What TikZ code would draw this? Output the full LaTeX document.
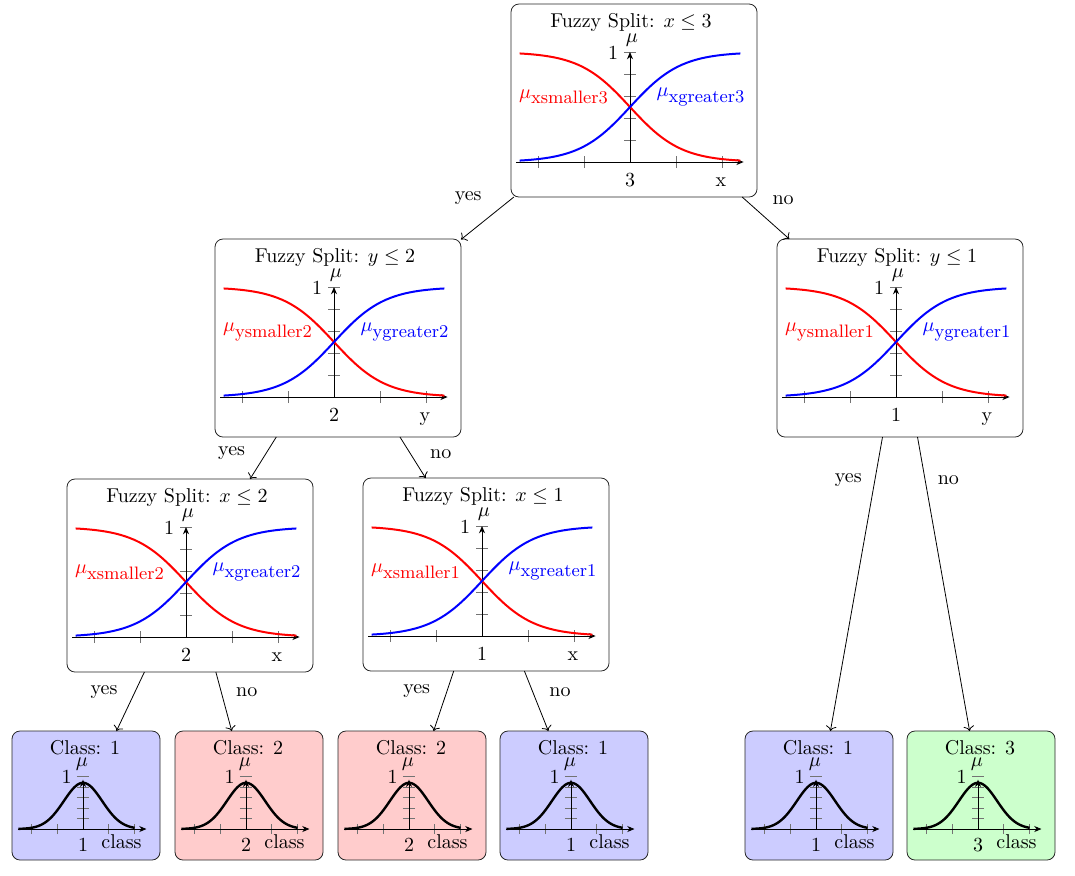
\documentclass[tikz,border=0pt]{standalone}
\usetikzlibrary{arrows.meta}
\tikzset{
  splitbox/.style={draw=black!85, rounded corners=4pt, minimum width=123pt, inner sep=0pt, outer sep=0pt},
  leafbox/.style={draw=black!85, rounded corners=4pt, minimum width=74pt, minimum height=64.5pt, inner sep=0pt, outer sep=0pt},
  edgearrow/.style={->, black},
  elabel/.style={anchor=base},
  tickline/.style={black!55, line width=0.4pt},
  axisline/.style={-{Stealth[length=3.6pt,width=3pt,inset=1.1pt]}, black, line width=0.45pt},
  redcurve/.style={red, line width=1pt},
  bluecurve/.style={blue, line width=1pt},
  classcurve/.style={black, line width=1.2pt},
}
\newcommand\splitplot[7]{%
  \node[splitbox, minimum height=#6pt] (#1) at ({#2+4},{#3-#7}) {};
  \begin{scope}[shift={(#2,#3)}]
    \node[anchor=base] (#1-title) at (1,-135) {Fuzzy Split: $#4 \leq #5$};
    \node (#1-one) at (-17,-109) {1};
    \node (#1-mu) at (2,-122) {$\mu$};
    \node (#1-thr) at (0,18) {#5};
    \node[anchor=base] (#1-var) at (91,24.5) {#4};
    \begin{scope}[x=23pt,y=55pt]
      \draw[tickline] \foreach \t in {-2,-1,1,2}{(\t,-0.0545) -- (\t,0.0545)};
      \draw[tickline] \foreach \v in {0.2,0.4,0.6,0.8,1}{(-0.13,\v) -- (0.13,\v)};
      \draw[axisline] (-2.47,0) -- (2.47,0);
      \draw[axisline] (0,0) -- (0,1);
      \draw[redcurve] plot[domain=-2.4:2.4,samples=70] (\x,{1/(1+exp(1.8*\x))});
      \draw[bluecurve] plot[domain=-2.4:2.4,samples=70] (\x,{1/(1+exp(-1.8*\x))});
    \end{scope}
    \node[text=red] (#1-lo) at (-66,-65) {$\mu_{\mbox{\small #4smaller#5}}$};
    \node[text=blue] (#1-hi) at (71,-65) {$\mu_{\mbox{\small #4greater#5}}$};
  \end{scope}}
\newcommand\leafplot[4]{%
  \node[leafbox, fill=#4] (#1) at ({#2+3},795.5) {};
  \begin{scope}[shift={(#2,829)}]
    \node[anchor=base] (#1-title) at (2,-75) {Class: #3};
    \node (#1-one) at (-16.5,-52) {1};
    \node (#1-mu) at (-1,-65) {$\mu$};
    \node (#1-val) at (0,16) {#3};
    \node[anchor=base] (#1-var) at (38.5,19.6) {class};
    \begin{scope}[x=12.9pt,y=26.25pt]
      \draw[tickline] \foreach \t in {-2,-1,1,2}{(\t,-0.095) -- (\t,0.095)};
      \draw[tickline] \foreach \v in {0.2,0.4,0.6,0.8,1}{(-0.233,\v) -- (0.233,\v)};
      \draw[axisline] (-2.52,0) -- (2.46,0);
      \draw[axisline] (0,0) -- (0,0.94);
      \draw[classcurve] plot[domain=-2.5:2.0,samples=70] (\x,{0.88*exp(-(\x)^2/1.1)});
    \end{scope}
  \end{scope}}
\begin{document}
\begin{tikzpicture}[x=0.5pt,y=-0.5pt]
\useasboundingbox (0,0) rectangle (1075,875);
% split nodes
\splitplot{T}{630}{162}{x}{3}{96.5}{61.5}
\splitplot{LL}{334}{397}{y}{2}{99}{59}
\splitplot{LR}{896}{397}{y}{1}{99}{59}
\splitplot{LLL}{186}{637}{x}{2}{96.5}{61.5}
\splitplot{LLR}{482}{636}{x}{1}{96.5}{61.5}
% leaves
\leafplot{C1}{83}{1}{blue!20}
\leafplot{C2}{246}{2}{red!20}
\leafplot{C3}{409}{2}{red!20}
\leafplot{C4}{571}{1}{blue!20}
\leafplot{C5}{816}{1}{blue!20}
\leafplot{C6}{978}{3}{green!20}
% edges
\draw[edgearrow] (T) -- (LL) node[elabel, pos=0.078, xshift=-20.8pt] (eA) {yes};
\draw[edgearrow] (T) -- (LR) node[elabel, pos=0.174, xshift=16.35pt] (eB) {no};
\draw[edgearrow] (LL) -- (LLL) node[elabel, pos=0.452, xshift=-16.4pt] (eC) {yes};
\draw[edgearrow] (LL) -- (LLR) node[elabel, pos=0.52, xshift=13.7pt] (eD) {no};
\draw[edgearrow] (LR) -- (C5) node[elabel, pos=0.155, xshift=-13.05pt] (eE) {yes};
\draw[edgearrow] (LR) -- (C6) node[elabel, pos=0.163, xshift=11.15pt] (eF) {no};
\draw[edgearrow] (LLL) -- (C1) node[elabel, pos=0.373, xshift=-15pt] (eG) {yes};
\draw[edgearrow] (LLL) -- (C2) node[elabel, pos=0.412, xshift=12.15pt] (eH) {no};
\draw[edgearrow] (LLR) -- (C3) node[elabel, pos=0.383, xshift=-14.65pt] (eI) {yes};
\draw[edgearrow] (LLR) -- (C4) node[elabel, pos=0.42, xshift=12.8pt] (eJ) {no};
\end{tikzpicture}
\end{document}
